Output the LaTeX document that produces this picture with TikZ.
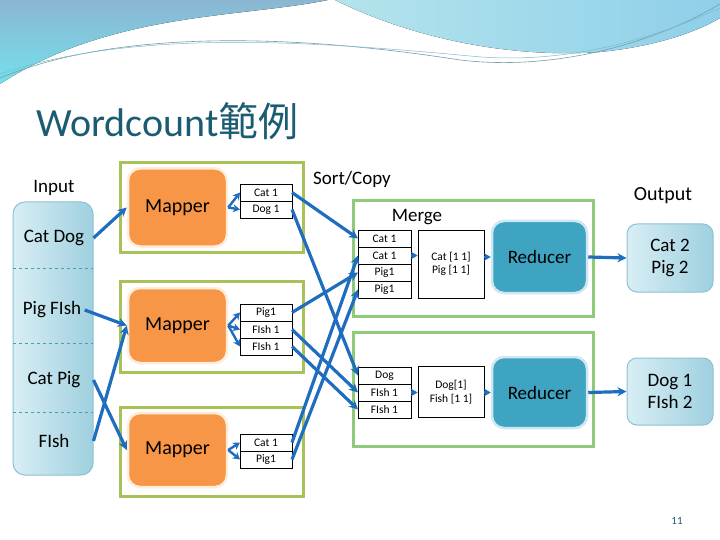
\documentclass[tikz,border=0pt]{standalone}
\usepackage{fontspec}
\setmainfont{Carlito}
\newfontfamily\cjkfont{Noto Sans CJK TC}
\usetikzlibrary{arrows.meta, positioning}

\definecolor{flowblue}{HTML}{1F6DBE}
\definecolor{titleteal}{HTML}{1B5C72}
\definecolor{mapgreen}{HTML}{A8C25A}
\definecolor{mergegreen}{HTML}{8FC97A}
\definecolor{mapperorange}{HTML}{F79646}
\definecolor{reducerblue}{HTML}{3FA3C2}
\definecolor{paleblue}{HTML}{D8EEF4}
\definecolor{midblue}{HTML}{9FD0DF}
\definecolor{edgeblue}{HTML}{8CC2D4}
\definecolor{dashblue}{HTML}{4A9DB5}
\definecolor{headblue}{HTML}{8BB6D2}
\definecolor{headcyan}{HTML}{74E0EC}
\definecolor{headlight}{HTML}{B4E4EC}
\definecolor{headsky}{HTML}{8FCFEA}

\begin{document}
\begin{tikzpicture}[
    x=1pt, y=-1pt,
    grp/.style={draw=mapgreen, line width=3pt, minimum width=183pt, inner sep=0pt},
    mgrp/.style={draw=mergegreen, line width=3pt, minimum width=240pt, inner sep=0pt},
    mapper/.style={draw=orange!15, line width=2.5pt, fill=mapperorange, rounded corners=12pt, minimum width=99pt, font=\fontsize{20}{22}\selectfont},
    reducer/.style={draw=reducerblue!25, line width=2.5pt, fill=reducerblue, rounded corners=12pt, minimum width=95pt, font=\fontsize{19}{21}\selectfont},
    outbox/.style={draw=edgeblue, line width=1pt, left color=paleblue, right color=midblue, rounded corners=10pt, minimum width=86pt, align=center, font=\fontsize{19}{22}\selectfont},
    cell/.style={draw, fill=white, line width=0.7pt, minimum width=52pt, minimum height=17pt, inner sep=0pt, outer sep=0pt, font=\fontsize{11.5}{12}\selectfont},
    group/.style={draw, fill=white, line width=0.7pt, minimum width=66pt, inner sep=0pt, align=center, font=\fontsize{11.5}{13.5}\selectfont},
    lbl/.style={font=\fontsize{19}{21}\selectfont},
    arrow/.style={-{Stealth[length=9pt,width=9pt]}, flowblue, line width=3.2pt},
    tick/.style={-{Stealth[length=7pt,width=8pt]}, flowblue, line width=2.4pt}
]

\useasboundingbox[fill=white] (0,0) rectangle (720,540);

% header
\fill[top color=headblue, bottom color=headcyan] (0,0) -- (328,0) .. controls (240,18) and (110,12) .. (0,84) -- cycle;
\fill[left color=headlight, right color=headsky] (335,0) .. controls (420,42) and (520,58) .. (600,52) .. controls (660,46) and (700,30) .. (720,18) -- (720,0) -- cycle;
\draw[titleteal!60, line width=0.6pt] (0,78) .. controls (120,28) and (300,35) .. (460,60) .. controls (560,72) and (660,40) .. (720,4);
\draw[dashblue!70, line width=0.5pt] (0,74) .. controls (130,30) and (300,40) .. (470,56) .. controls (570,66) and (660,36) .. (720,8);

\node[anchor=west, text=titleteal, font=\fontsize{40}{42}\selectfont] (title) at (33,121) {Wordcount{\cjkfont 範例}};

% input
\node[lbl] (inlabel) at (54,188) {Input};
\node[draw=edgeblue, line width=1pt, left color=paleblue, right color=midblue, rounded corners=12pt, minimum width=80pt, minimum height=273pt] (input) at (53,338.5) {};
\foreach \y in {268,343,412}
  \draw[dashed, dashblue, line width=1pt] (13,\y) -- (93,\y);
\node[lbl] (catdog) at (54,238) {Cat Dog};
\node[lbl] (pigfish) at (52,310) {Pig FIsh};
\node[lbl] (catpig) at (54,380) {Cat Pig};
\node[lbl] (fish) at (54,441) {FIsh};

% map stage
\node[grp, minimum height=89pt] (box1) at (211.5,207.5) {};
\node[grp, minimum height=91pt] (box2) at (211.5,326.5) {};
\node[grp, minimum height=89pt] (box3) at (211.5,451.5) {};

\node[mapper, minimum height=78pt] (mp1) at (177.5,207.5) {Mapper};
\node[mapper, minimum height=75pt] (mp2) at (177.5,325.5) {Mapper};
\node[mapper, minimum height=74pt] (mp3) at (177.5,450) {Mapper};

\node[cell] (k1a) at (266,192.5) {Cat 1};
\node[cell, below=0pt of k1a] (k1b) {Dog 1};
\node[cell] (k2a) at (266,312.5) {Pig1};
\node[cell, below=0pt of k2a] (k2b) {FIsh 1};
\node[cell, below=0pt of k2b] (k2c) {FIsh 1};
\node[cell] (k3a) at (266,442.5) {Cat 1};
\node[cell, below=0pt of k3a] (k3b) {Pig1};

\node[lbl] (sortcopy) at (352,179) {Sort/Copy};

% merge / reduce stage
\node[mgrp, minimum height=115pt] (mg1) at (473,258.5) {};
\node[mgrp, minimum height=114pt] (mg2) at (473,389) {};
\node[lbl] (merge) at (417,217) {Merge};

\node[cell, minimum width=53pt] (m1a) at (384.5,238.5) {Cat 1};
\node[cell, minimum width=53pt, below=0pt of m1a] (m1b) {Cat 1};
\node[cell, minimum width=53pt, below=0pt of m1b] (m1c) {Pig1};
\node[cell, minimum width=53pt, below=0pt of m1c] (m1d) {Pig1};
\node[cell, minimum width=53pt] (m2a) at (384.5,375.5) {Dog};
\node[cell, minimum width=53pt, below=0pt of m2a] (m2b) {FIsh 1};
\node[cell, minimum width=53pt, below=0pt of m2b] (m2c) {FIsh 1};

\node[group, minimum height=68pt] (g1) at (451,264) {Cat [1 1]\\Pig [1 1]};
\node[group, minimum height=51pt] (g2) at (451,392) {Dog[1]\\Fish [1 1]};

\node[reducer, minimum height=72pt] (r1) at (539.5,257) {Reducer};
\node[reducer, minimum height=71pt] (r2) at (539.5,392.5) {Reducer};

\node[lbl, font=\fontsize{20}{22}\selectfont] (outlabel) at (663,196) {Output};
\node[outbox, minimum height=68pt] (o1) at (670,258) {Cat 2\\Pig 2};
\node[outbox, minimum height=67pt] (o2) at (670,391.5) {Dog 1\\FIsh 2};

\node[text=titleteal, font=\fontsize{11}{12}\selectfont] (pagenum) at (677,521) {11};

% input -> mappers
\draw[arrow] (catdog.east -| input.east) -- (mp1.west);
\draw[arrow] (pigfish.east) -- (mp2.west);
\draw[arrow] (fish.east -| input.east) -- (mp2.west);
\draw[arrow] (catpig.east -| input.east) -- (mp3.west);

% mappers -> key/value pairs
\foreach \k in {k1a,k1b}
  \draw[tick] (mp1.east) -- (\k.west);
\foreach \k in {k2a,k2b,k2c}
  \draw[tick] (mp2.east) -- (\k.west);
\foreach \k in {k3a,k3b}
  \draw[tick] (mp3.east) -- (\k.west);

% shuffle
\draw[arrow] (k1a.east) -- (m1a.west);
\draw[arrow] (k1b.east) -- (m2a.west);
\draw[arrow] (k2a.east) -- (m1c.west);
\draw[arrow] (k2b.east) -- (m2b.west);
\draw[arrow] (k2c.east) -- (m2c.west);
\draw[arrow] (k3a.east) -- (m1b.west);
\draw[arrow] (k3b.east) -- (m1d.west);

% grouping and reducing
\draw[tick] (m1b.east) -- (m1b.east -| g1.west);
\draw[tick] (m2b.east) -- (m2b.east -| g2.west);
\draw[tick] (g1.east |- r1.west) -- (r1.west);
\draw[tick] (g2.east |- r2.west) -- (r2.west);
\draw[arrow] (r1.east) -- (o1.west);
\draw[arrow] (r2.east) -- (o2.west);

\end{tikzpicture}
\end{document}
